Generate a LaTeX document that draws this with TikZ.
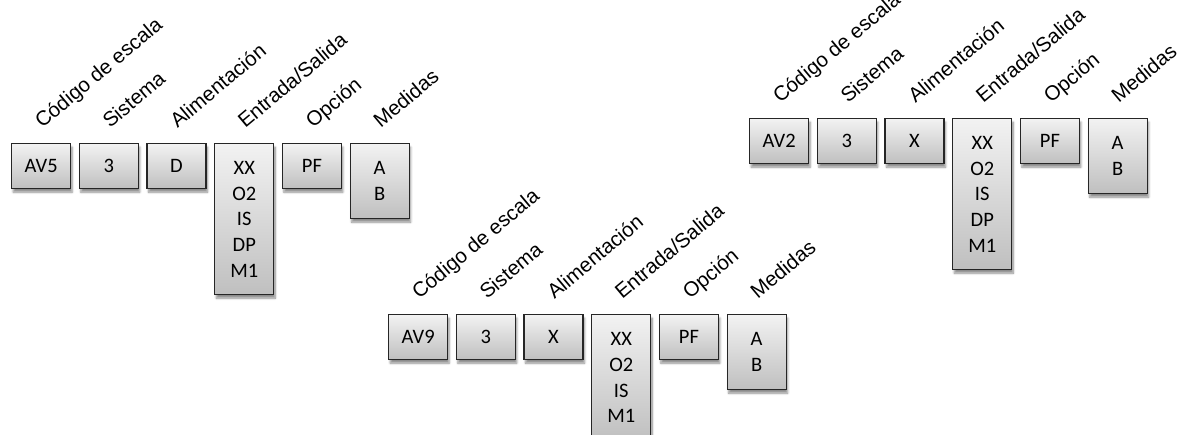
\documentclass[tikz,border=0pt]{standalone}
\usepackage{fontspec}
\setmainfont{Liberation Sans}
\newfontfamily\cajafont{Carlito}
\usepackage[svgnames]{xcolor}
\usepackage{tikz}
\usetikzlibrary{positioning}
\usetikzlibrary{shadows.blur}

\tikzset{
  caja/.style={rectangle, draw=black!85, line width=1.3pt,
    top color=black!5, bottom color=black!25,
    blur shadow={shadow xshift=1.5pt, shadow yshift=-3.5pt, shadow blur steps=6, shadow opacity=45},
    minimum width=59pt, minimum height=#1, inner sep=0pt, align=center,
    font=\cajafont\fontsize{20.5}{25.7}\selectfont},
  caja/.default=45pt,
  etiq/.style={rotate=40, anchor=base west, inner sep=0pt,
    font=\fontsize{20.5}{24}\selectfont}
}

\begin{document}
\begin{tikzpicture}[x=1pt,y=1pt]
\useasboundingbox (0,0) rectangle (1186,435);
% grupo AV5
\node [caja, anchor=north west] (cod1) at (11,292) {AV5};
\node [caja, anchor=north west] (sis1) at ([xshift=7.4pt]cod1.north east) {3};
\node [caja, anchor=north west] (ali1) at ([xshift=7.4pt]sis1.north east) {D};
\node [caja=151pt, anchor=north west] (ent1) at ([xshift=7.4pt]ali1.north east) {XX\\O2\\IS\\DP\\M1};
\node [caja, anchor=north west] (opc1) at ([xshift=7.4pt]ent1.north east) {PF};
\node [caja=75pt, anchor=north west] (med1) at ([xshift=7.4pt]opc1.north east) {A\\B};
\node [etiq] (tcod1) at ([xshift=1pt,yshift=14pt]cod1.north) {Código de escala};
\node [etiq] (tsis1) at ([xshift=1pt,yshift=14pt]sis1.north) {Sistema};
\node [etiq] (tali1) at ([xshift=1pt,yshift=14pt]ali1.north) {Alimentación};
\node [etiq] (tent1) at ([xshift=1pt,yshift=14pt]ent1.north) {Entrada/Salida};
\node [etiq] (topc1) at ([xshift=1pt,yshift=14pt]opc1.north) {Opción};
\node [etiq] (tmed1) at ([xshift=1pt,yshift=14pt]med1.north) {Medidas};
% grupo AV9
\node [caja, anchor=north west] (cod2) at (388,121) {AV9};
\node [caja, anchor=north west] (sis2) at ([xshift=7.4pt]cod2.north east) {3};
\node [caja, anchor=north west] (ali2) at ([xshift=7.4pt]sis2.north east) {X};
\node [caja=126pt, anchor=north west] (ent2) at ([xshift=7.4pt]ali2.north east) {XX\\O2\\IS\\M1};
\node [caja, anchor=north west] (opc2) at ([xshift=7.4pt]ent2.north east) {PF};
\node [caja=75pt, anchor=north west] (med2) at ([xshift=7.4pt]opc2.north east) {A\\B};
\node [etiq] (tcod2) at ([xshift=1pt,yshift=14pt]cod2.north) {Código de escala};
\node [etiq] (tsis2) at ([xshift=1pt,yshift=14pt]sis2.north) {Sistema};
\node [etiq] (tali2) at ([xshift=1pt,yshift=14pt]ali2.north) {Alimentación};
\node [etiq] (tent2) at ([xshift=1pt,yshift=14pt]ent2.north) {Entrada/Salida};
\node [etiq] (topc2) at ([xshift=1pt,yshift=14pt]opc2.north) {Opción};
\node [etiq] (tmed2) at ([xshift=1pt,yshift=14pt]med2.north) {Medidas};
% grupo AV2
\node [caja, anchor=north west] (cod3) at (749,317) {AV2};
\node [caja, anchor=north west] (sis3) at ([xshift=7.4pt]cod3.north east) {3};
\node [caja, anchor=north west] (ali3) at ([xshift=7.4pt]sis3.north east) {X};
\node [caja=151pt, anchor=north west] (ent3) at ([xshift=7.4pt]ali3.north east) {XX\\O2\\IS\\DP\\M1};
\node [caja, anchor=north west] (opc3) at ([xshift=7.4pt]ent3.north east) {PF};
\node [caja=75pt, anchor=north west] (med3) at ([xshift=7.4pt]opc3.north east) {A\\B};
\node [etiq] (tcod3) at ([xshift=1pt,yshift=14pt]cod3.north) {Código de escala};
\node [etiq] (tsis3) at ([xshift=1pt,yshift=14pt]sis3.north) {Sistema};
\node [etiq] (tali3) at ([xshift=1pt,yshift=14pt]ali3.north) {Alimentación};
\node [etiq] (tent3) at ([xshift=1pt,yshift=14pt]ent3.north) {Entrada/Salida};
\node [etiq] (topc3) at ([xshift=1pt,yshift=14pt]opc3.north) {Opción};
\node [etiq] (tmed3) at ([xshift=1pt,yshift=14pt]med3.north) {Medidas};
\end{tikzpicture}
\end{document}
